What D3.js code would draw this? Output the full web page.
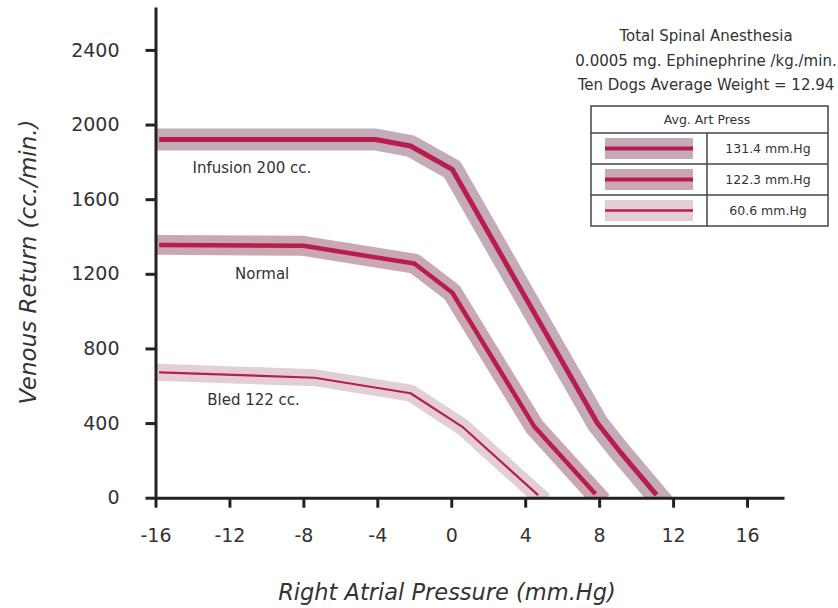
<!DOCTYPE html>
<html>
<head>
<meta charset="utf-8">
<script src="https://cdn.jsdelivr.net/npm/d3@7"></script>
<style>
  body { margin: 0; background: #fff; }
  text { font-family: "DejaVu Sans", Verdana, sans-serif; fill: #333; }
</style>
</head>
<body>
<div id="chart"></div>
<script>
// values
const infusionX = [-15.8, -4.1, -2.2, 0.05, 7.9, 9.1, 11.1];
const infusionY = [1920, 1920, 1885, 1760, 400, 250, 15];
const normalX = [-15.8, -8, -2, 0.05, 4.5, 7.8];
const normalY = [1355, 1350, 1255, 1100, 380, 20];
const bledX = [-15.8, -7.4, -2.2, 0.6, 4.7];
const bledY = [672, 643, 560, 380, 14];

const seriesNames = ["Infusion 200 cc.", "Normal", "Bled 122 cc."];
const artPress = ["131.4 mm.Hg", "122.3 mm.Hg", "60.6 mm.Hg"];
const xTicks = [-16, -12, -8, -4, 0, 4, 8, 12, 16];
const yTicks = [0, 400, 800, 1200, 1600, 2000, 2400];
const notes = ["Total Spinal Anesthesia", "0.0005 mg. Ephinephrine /kg./min.", "Ten Dogs Average Weight = 12.94"];

const lineColor = "#b81e4a";
const bandColors = ["#c3abb9", "#c9a8b3", "#e4ced6"];
const bandWidths = [22, 20, 17];
const lineWidths = [5, 4.5, 2.2];

const W = 838, H = 608;
const svg = d3.select("#chart").append("svg")
    .attr("width", W)
    .attr("height", H);

const x = d3.scaleLinear().domain([-16, 18]).range([155.5, 784]);
const y = d3.scaleLinear().domain([0, 2630]).range([497.7, 7]);

const zip = (xs, ys) => xs.map((v, i) => [v, ys[i]]);
const series = [zip(infusionX, infusionY), zip(normalX, normalY), zip(bledX, bledY)];

svg.append("clipPath").attr("id", "plot")
  .append("rect")
    .attr("x", x(-16)).attr("y", 0)
    .attr("width", x(18) - x(-16)).attr("height", y(0));

const line = d3.line().x(d => x(d[0])).y(d => y(d[1]));

const g = svg.append("g").attr("clip-path", "url(#plot)");
series.forEach((s, i) => {
    g.append("path")
        .attr("d", line(s))
        .attr("fill", "none")
        .attr("stroke", bandColors[i])
        .attr("stroke-width", bandWidths[i])
        .attr("stroke-linecap", "square")
        .attr("stroke-linejoin", "round");
});
series.forEach((s, i) => {
    g.append("path")
        .attr("d", line(s))
        .attr("fill", "none")
        .attr("stroke", lineColor)
        .attr("stroke-width", lineWidths[i])
        .attr("stroke-linejoin", "round");
});

// axes
const fmt = d => String(d);
const xAxis = svg.append("g")
    .attr("transform", `translate(0,${y(0)})`)
    .call(d3.axisBottom(x).tickValues(xTicks).tickFormat(fmt).tickSize(10).tickSizeOuter(0).tickPadding(21));
const yAxis = svg.append("g")
    .attr("transform", `translate(${x(-16)},0)`)
    .call(d3.axisLeft(y).tickValues(yTicks).tickFormat(fmt).tickSize(10).tickSizeOuter(0).tickPadding(26));

[xAxis, yAxis].forEach(a => {
    a.select(".domain").attr("stroke", "#222").attr("stroke-width", 3);
    a.selectAll(".tick line").attr("stroke", "#222").attr("stroke-width", 3);
    a.selectAll(".tick text")
        .attr("fill", "#333")
        .style("font-family", "DejaVu Sans, sans-serif")
        .style("font-size", "19px");
});

svg.append("text")
    .attr("transform", `translate(36,262) rotate(-90)`)
    .attr("text-anchor", "middle")
    .style("font-size", "23px")
    .style("font-style", "italic")
    .text("Venous Return (cc./min.)");

svg.append("text")
    .attr("x", 447).attr("y", 600)
    .attr("text-anchor", "middle")
    .style("font-size", "22.5px")
    .style("font-style", "italic")
    .text("Right Atrial Pressure (mm.Hg)");

// series labels
const labelPos = [[-14, 1740], [-11.7, 1170], [-13.2, 497]];
seriesNames.forEach((n, i) => {
    svg.append("text")
        .attr("x", x(labelPos[i][0])).attr("y", y(labelPos[i][1]))
        .style("font-size", "15px")
        .text(n);
});

// notes
notes.forEach((t, i) => {
    svg.append("text")
        .attr("x", 706).attr("y", 41 + i * 24.6)
        .attr("text-anchor", "middle")
        .style("font-size", "15px")
        .text(t);
});

// legend table
const lx = 591, ly = 106, lw = 237, hh = 27, rh = 31, cx = 707;
const leg = svg.append("g");
leg.append("rect").attr("x", lx).attr("y", ly).attr("width", lw).attr("height", hh + rh * 3)
    .attr("fill", "#fff").attr("stroke", "#444").attr("stroke-width", 1.5);
leg.append("text").attr("x", cx).attr("y", ly + hh / 2 + 4.5)
    .attr("text-anchor", "middle").style("font-size", "12.5px").text("Avg. Art Press");
artPress.forEach((t, i) => {
    const ry = ly + hh + i * rh;
    leg.append("line").attr("x1", lx).attr("x2", lx + lw).attr("y1", ry).attr("y2", ry)
        .attr("stroke", "#444").attr("stroke-width", 1.5);
    leg.append("rect").attr("x", 605).attr("y", ry + rh / 2 - 10.5).attr("width", 88).attr("height", 21)
        .attr("fill", bandColors[i]);
    leg.append("line").attr("x1", 605).attr("x2", 693).attr("y1", ry + rh / 2).attr("y2", ry + rh / 2)
        .attr("stroke", lineColor).attr("stroke-width", i === 2 ? 2.5 : 4);
    leg.append("text").attr("x", 768).attr("y", ry + rh / 2 + 4.5)
        .attr("text-anchor", "middle").style("font-size", "12.5px").text(t);
});
leg.append("line").attr("x1", cx).attr("x2", cx).attr("y1", ly + hh).attr("y2", ly + hh + rh * 3)
    .attr("stroke", "#444").attr("stroke-width", 1.5);
</script>
</body>
</html>
